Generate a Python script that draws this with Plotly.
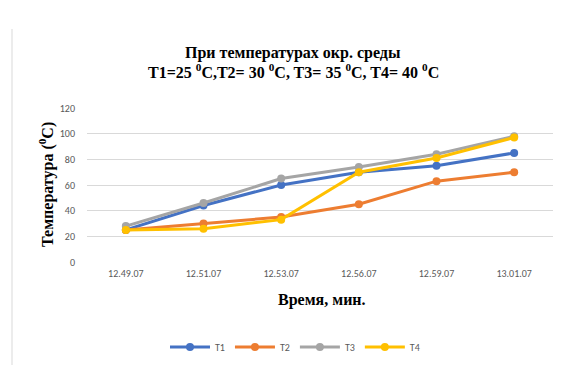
import plotly.graph_objects as go

times = ["12.49.07", "12.51.07", "12.53.07", "12.56.07", "12.59.07", "13.01.07"]
t1 = [25, 44, 60, 70, 75, 85]
t2 = [25, 30, 35, 45, 63, 70]
t3 = [28, 46, 65, 74, 84, 98]
t4 = [25, 26, 33, 70, 81, 97]
series = [("T1", t1, "#4472C4"), ("T2", t2, "#ED7D31"),
          ("T3", t3, "#A5A5A5"), ("T4", t4, "#FFC000")]
y_ticks = [0, 20, 40, 60, 80, 100, 120]

W, H = 563, 365
L, R, T, B = 87, 10, 108, 103
pw, ph = W - L - R, H - T - B

def px_x(x):
    return (x - L) / pw

def px_y(y):
    return (H - B - y) / ph

fig = go.Figure()
for name, vals, col in series:
    fig.add_trace(go.Scatter(
        x=times, y=vals, name=name, mode="lines+markers",
        line=dict(color=col, width=3),
        marker=dict(color=col, size=8),
    ))

serif = "Liberation Serif, Times New Roman, serif"
tick_font = dict(family="Carlito, Liberation Sans, Arial, sans-serif", size=10, color="#595959")
deg = "<sup>0</sup>"

def label(text, x, y, size, angle=0):
    return dict(text=text, xref="paper", yref="paper", x=px_x(x), y=px_y(y),
                xanchor="center", yanchor="middle", showarrow=False,
                textangle=angle, font=dict(family=serif, size=size, color="black"))

fig.update_layout(
    width=W, height=H,
    margin=dict(l=L, r=R, t=T, b=B, autoexpand=False),
    paper_bgcolor="white", plot_bgcolor="white",
    showlegend=True,
    legend=dict(orientation="h", x=px_x(295), xanchor="center",
                y=px_y(347), yanchor="middle",
                font=tick_font, itemwidth=40, tracegroupgap=0),
    xaxis=dict(type="category", range=[-0.5, 5.5], showgrid=False, automargin=False,
               showline=False, ticks="", tickfont=tick_font, ticklabelstandoff=4),
    yaxis=dict(range=[0, 120], tickvals=y_ticks, showgrid=True, automargin=False,
               gridcolor="#D9D9D9", gridwidth=1, zeroline=False,
               showline=False, ticks="", tickfont=tick_font, ticklabelstandoff=11),
    annotations=[
        label("<b>При температурах окр. среды</b>", 293, 53, 16),
        label(f"<b>T1=25 {deg}C,T2= 30 {deg}C, T3= 35 {deg}C, T4= 40 {deg}C</b>", 293, 71, 16),
        label(f"<b>Температура ({deg}C)</b>", 46, 185, 16, -90),
        label("<b>Время, мин.</b>", 322, 300, 16),
    ],
    shapes=[
        dict(type="line", xref="paper", yref="paper",
             x0=px_x(12), x1=px_x(12), y0=px_y(29), y1=px_y(H),
             line=dict(color="#D9D9D9", width=1)),
    ],
)

fig.write_html("out.html")
